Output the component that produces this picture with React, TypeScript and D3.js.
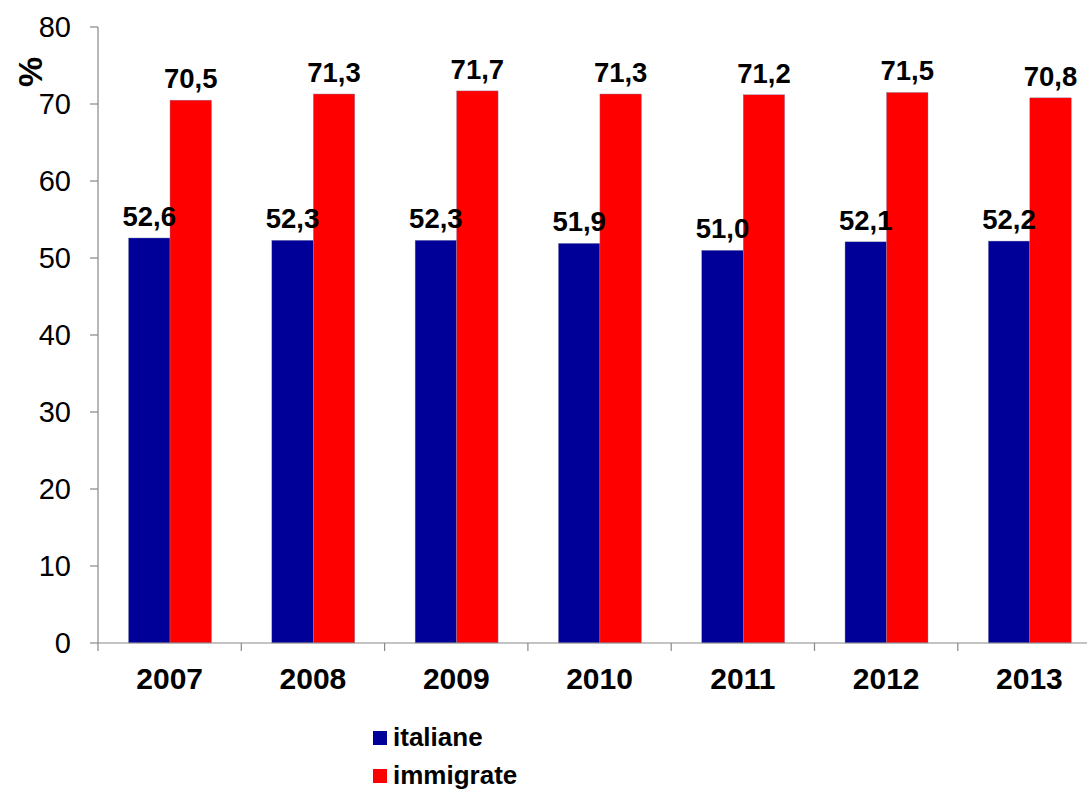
import React from "react";
import * as d3 from "d3";

const years = ["2007", "2008", "2009", "2010", "2011", "2012", "2013"];
const seriesNames = ["italiane", "immigrate"];
const italiane = [52.6, 52.3, 52.3, 51.9, 51.0, 52.1, 52.2];
const immigrate = [70.5, 71.3, 71.7, 71.3, 71.2, 71.5, 70.8];
const seriesColors = ["#000099", "#FF0000"];
const yTicks = [0, 10, 20, 30, 40, 50, 60, 70, 80];

const W = 1087;
const H = 790;
const FONT = "'Liberation Sans', Arial, sans-serif";

export default function App() {
  const x0 = d3.scaleBand<string>().domain(years).range([98, 98 + 7 * 143.3]).paddingInner(0).paddingOuter(0);
  const bw = x0.bandwidth();
  const x1 = d3.scaleBand<string>().domain(seriesNames).range([bw * 0.213, bw * 0.792]).padding(0);
  const y = d3.scaleLinear().domain([0, 80]).range([643, 27]);
  const data = [italiane, immigrate];
  const fmt = (v: number) => v.toFixed(1).replace(".", ",");

  return (
    <svg width={W} height={H} style={{ position: "absolute", left: 0, top: 0, background: "#fff" }} fontFamily={FONT}>
      {/* bars */}
      {years.map((yr, i) => (
        <g key={yr} transform={`translate(${x0(yr)},0)`}>
          {seriesNames.map((s, si) => {
            const v = data[si][i];
            return (
              <rect
                key={s}
                x={x1(s)!}
                y={y(v)}
                width={x1.bandwidth()}
                height={y(0) - y(v)}
                fill={seriesColors[si]}
                stroke="#8a8ab0"
                strokeWidth={0.4}
              />
            );
          })}
        </g>
      ))}
      {/* value labels */}
      {years.map((yr, i) => (
        <g key={"l" + yr} transform={`translate(${x0(yr)},0)`}>
          {seriesNames.map((s, si) => {
            const v = data[si][i];
            return (
              <text
                key={s}
                x={x1(s)! + x1.bandwidth() / 2}
                y={y(v) - 12}
                textAnchor="middle"
                fontSize={27.5}
                fontWeight="bold"
                fill="#000"
              >
                {fmt(v)}
              </text>
            );
          })}
        </g>
      ))}
      {/* y axis */}
      <line x1={98} x2={98} y1={y(80)} y2={y(0)} stroke="#888" strokeWidth={1.2} />
      {yTicks.map((t) => (
        <g key={t}>
          <line x1={90} x2={98} y1={y(t)} y2={y(t)} stroke="#888" strokeWidth={1.2} />
          <text x={71} y={y(t) + 10} textAnchor="end" fontSize={29} fill="#000">
            {t}
          </text>
        </g>
      ))}
      <text
        transform={`translate(42,72) rotate(-90)`}
        textAnchor="middle"
        fontSize={34}
        fontWeight="bold"
        fill="#000"
      >
        %
      </text>
      {/* x axis */}
      <line x1={98} x2={W} y1={y(0)} y2={y(0)} stroke="#888" strokeWidth={1.2} />
      {years.map((yr) => (
        <line key={"t" + yr} x1={x0(yr)!} x2={x0(yr)!} y1={y(0)} y2={y(0) + 8} stroke="#888" strokeWidth={1.2} />
      ))}
      {years.map((yr) => (
        <text key={"x" + yr} x={x0(yr)! + bw / 2} y={689} textAnchor="middle" fontSize={30} fontWeight="bold" fill="#000">
          {yr}
        </text>
      ))}
      {/* legend */}
      {seriesNames.map((s, si) => (
        <g key={"lg" + s} transform={`translate(373,${731 + si * 38})`}>
          <rect x={0} y={0} width={14} height={14} fill={seriesColors[si]} />
          <text x={20} y={15} fontSize={26} fontWeight="bold" fill="#000">
            {s}
          </text>
        </g>
      ))}
    </svg>
  );
}
